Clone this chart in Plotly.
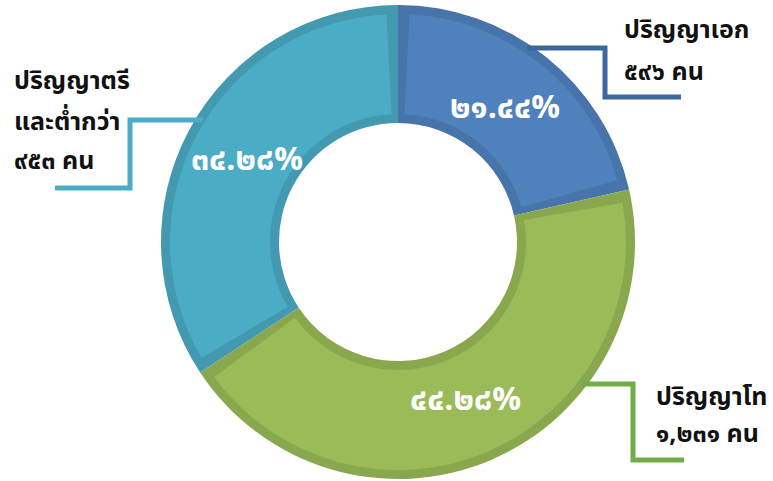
import math
import plotly.graph_objects as go

# Graduates by degree level (persons)
levels = ["ปริญญาเอก", "ปริญญาโท", "ปริญญาตรีและต่ำกว่า"]
counts = [596, 1231, 953]
label_lines = [
    ["ปริญญาเอก", "{n} คน"],
    ["ปริญญาโท", "{n} คน"],
    ["ปริญญาตรี", "และต่ำกว่า", "{n} คน"],
]

fill_colors = ["#4F81BD", "#9BBB59", "#4BACC6"]
edge_colors = ["#4674AB", "#89A84E", "#4399B0"]
leader_colors = ["#3C679E", "#70AD47", "#4BACC6"]

W, H = 773, 481
CX, CY = 398, 242          # donut centre (px)
R_OUT, R_IN = 237, 119     # ring radii (px)
BAND = 9                   # darker rim width (px)
FONT = "Noto Sans Thai, Noto Sans, sans-serif"

THAI_DIGITS = str.maketrans("0123456789", "๐๑๒๓๔๕๖๗๘๙")


def thai(s):
    return s.translate(THAI_DIGITS)


def px(x, y):
    return x / W, 1 - y / H


def domain(r):
    return dict(x=[(CX - r) / W, (CX + r) / W], y=[1 - (CY + r) / H, 1 - (CY - r) / H])


total = sum(counts)
fig = go.Figure()

# darker rim: full ring
fig.add_trace(go.Pie(
    values=counts, labels=levels, sort=False, direction="clockwise", rotation=0,
    hole=R_IN / R_OUT, domain=domain(R_OUT), textinfo="none", hoverinfo="skip",
    marker=dict(colors=edge_colors, line=dict(width=0)), showlegend=False,
))

# lighter face, inset from the rim on every side
r2_out, r2_in = R_OUT - BAND, R_IN + BAND
gap = (BAND / ((r2_out + r2_in) / 2)) / (2 * math.pi) * total
face_vals, face_cols = [], []
for i, v in enumerate(counts):
    face_vals += [gap, v - 2 * gap, gap]
    face_cols += ["rgba(0,0,0,0)", fill_colors[i], "rgba(0,0,0,0)"]
fig.add_trace(go.Pie(
    values=face_vals, labels=[str(k) for k in range(len(face_vals))], sort=False,
    direction="clockwise", rotation=0, hole=r2_in / r2_out, domain=domain(r2_out),
    textinfo="none", hoverinfo="skip",
    marker=dict(colors=face_cols, line=dict(width=0)), showlegend=False,
))

# percentage labels at the middle of each slice
cum = 0
r_mid = 172
for i, v in enumerate(counts):
    mid = (cum + v / 2) / total * 2 * math.pi
    cum += v
    x = CX + r_mid * math.sin(mid)
    y = CY - r_mid * math.cos(mid)
    ax, ay = px(x, y)
    fig.add_annotation(
        x=ax, y=ay, xref="paper", yref="paper", showarrow=False,
        xanchor="center", yanchor="middle",
        text=thai(f"{v / total * 100:.2f}%"),
        font=dict(family=FONT, size=32, color="white", weight="bold"),
    )

# category labels
label_pos = [(622, [30, 72]), (654, [397, 434]), (12, [81, 122, 161])]
for i, (lx, ys) in enumerate(label_pos):
    for line, ly in zip(label_lines[i], ys):
        ax, ay = px(lx, ly)
        fig.add_annotation(
            x=ax, y=ay, xref="paper", yref="paper", showarrow=False,
            xanchor="left", yanchor="middle",
            text=thai(line.format(n=f"{counts[i]:,}")),
            font=dict(family=FONT, size=25, color="#111111", weight="bold"),
        )

# leader lines
leaders = [
    [(527, 48), (605, 48), (605, 97), (681, 97)],
    [(582, 384), (633, 384), (633, 460), (684, 460)],
    [(203, 120), (130, 120), (130, 188), (55, 188)],
]
for i, pts in enumerate(leaders):
    path = "M " + " L ".join(f"{px(x, y)[0]},{px(x, y)[1]}" for x, y in pts)
    fig.add_shape(type="path", xref="paper", yref="paper", path=path,
                  line=dict(color=leader_colors[i], width=5))

fig.update_layout(
    width=W, height=H, margin=dict(l=0, r=0, t=0, b=0),
    paper_bgcolor="white", plot_bgcolor="white", showlegend=False,
)
fig.write_html("out.html")
